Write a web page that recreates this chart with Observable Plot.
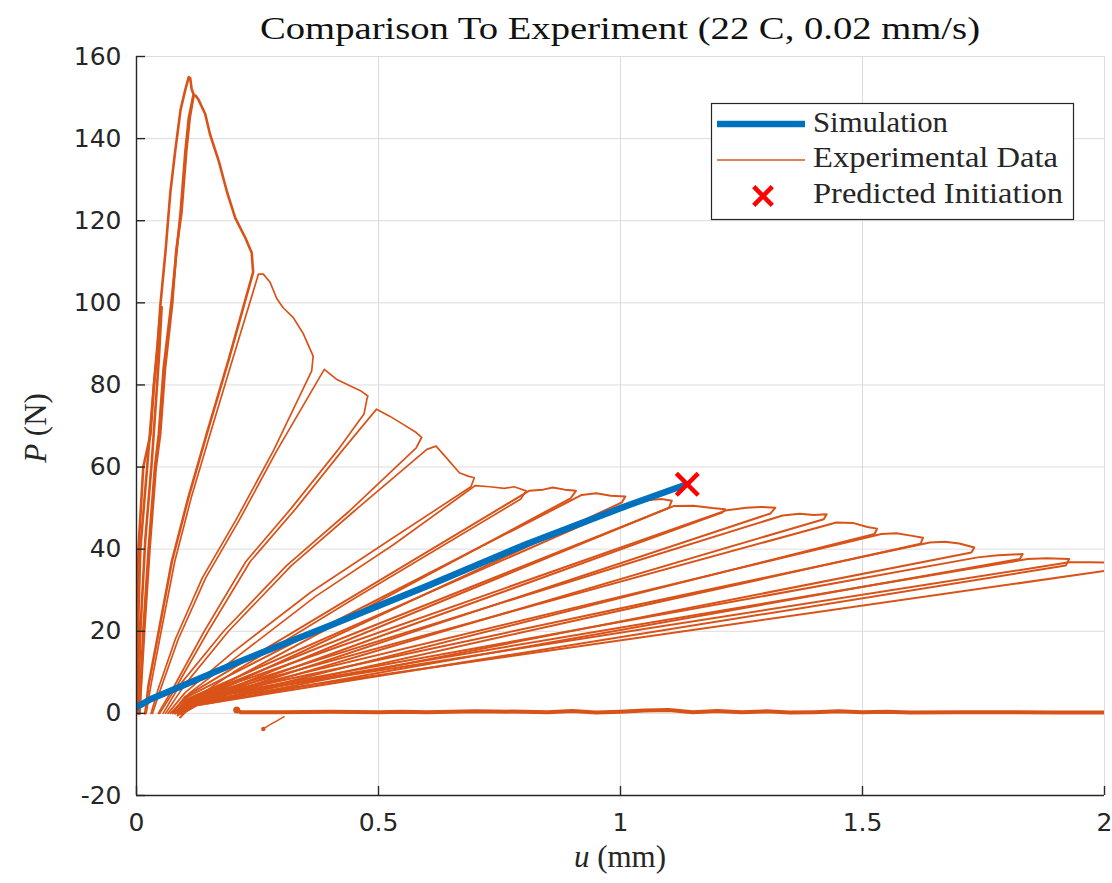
<!DOCTYPE html>
<html><head><meta charset="utf-8">
<script src="https://cdn.jsdelivr.net/npm/d3@7"></script>
<script src="https://cdn.jsdelivr.net/npm/@observablehq/plot@0.6"></script>
<style>html,body{margin:0;padding:0;background:#fff;overflow:hidden} svg{display:block}</style>
</head><body><div id="chart"></div>
<script>
// ---------- data ----------
const titleText = "Comparison To Experiment (22 C, 0.02 mm/s)";
const xTicks = [0, 0.5, 1, 1.5, 2];
const yTicks = [-20, 0, 20, 40, 60, 80, 100, 120, 140, 160];
const xTickLabels = ["0", "0.5", "1", "1.5", "2"];
const yTickLabels = ["-20", "0", "20", "40", "60", "80", "100", "120", "140", "160"];
const legendLabels = ["Simulation", "Experimental Data", "Predicted Initiation"];

// simulation (blue)
const simU = [0, 0.03, 0.09, 0.2, 0.4, 0.6, 0.805, 1.0, 1.13];
const simP = [1.5, 3.5, 6.5, 12, 21.4, 31, 41.2, 50, 55.5];

// predicted initiation (red x)
const initU = [1.138];
const initP = [55.8];

// experimental load/unload cycles (u in mm, P in N)
const cycleU = [
  [0, 0.003, 0.008, 0.022, 0.036, 0.048, 0.052, 0.046, 0.032, 0.018, 0.008, 0.003],
  [0, 0.002, 0.004, 0.014, 0.029, 0.036, 0.043, 0.049, 0.06, 0.07, 0.08, 0.091, 0.101, 0.108, 0.111, 0.114, 0.118, 0.108, 0.101, 0.091, 0.072, 0.056, 0.046, 0.038, 0.025, 0.014, 0.006],
  [0.006, 0.016, 0.027, 0.040, 0.049, 0.059, 0.074, 0.082, 0.093, 0.103, 0.110, 0.118, 0.122, 0.128, 0.142, 0.152, 0.17, 0.187, 0.204, 0.225, 0.238, 0.241, 0.19, 0.145, 0.107, 0.073, 0.045, 0.025, 0.018],
  [0.02, 0.03, 0.05, 0.079, 0.113, 0.152, 0.198, 0.252, 0.262, 0.276, 0.29, 0.303, 0.324, 0.345, 0.365, 0.362, 0.283, 0.205, 0.136, 0.08, 0.045, 0.03],
  [0.033, 0.05, 0.086, 0.143, 0.212, 0.29, 0.388, 0.413, 0.443, 0.464, 0.478, 0.476, 0.47, 0.415, 0.32, 0.226, 0.14, 0.075, 0.045],
  [0.048, 0.08, 0.148, 0.235, 0.33, 0.425, 0.496, 0.523, 0.551, 0.578, 0.589, 0.578, 0.44, 0.31, 0.18, 0.09, 0.055],
  [0.06, 0.1, 0.19, 0.32, 0.45, 0.60, 0.619, 0.64, 0.667, 0.685, 0.698, 0.691, 0.52, 0.36, 0.2, 0.1, 0.065],
  [0.07, 0.11, 0.21, 0.37, 0.53, 0.70, 0.73, 0.76, 0.78, 0.805, 0.794, 0.45, 0.2, 0.1, 0.075],
  [0.075, 0.1, 0.811, 0.84, 0.86, 0.885, 0.908, 0.897, 0.1, 0.08],
  [0.08, 0.105, 0.92, 0.95, 0.98, 1.01, 1.003, 0.105, 0.085],
  [0.085, 0.105, 1.03, 1.06, 1.085, 1.106, 1.1, 0.11, 0.085],
  [0.085, 0.11, 1.11, 1.15, 1.19, 1.216, 1.21, 0.11, 0.087],
  [0.087, 0.11, 1.22, 1.26, 1.29, 1.32, 1.31, 0.115, 0.09],
  [0.09, 0.115, 1.335, 1.37, 1.40, 1.426, 1.42, 0.115, 0.09],
  [0.09, 0.115, 1.446, 1.48, 1.51, 1.53, 1.525, 0.12, 0.09],
  [0.09, 0.12, 1.539, 1.57, 1.60, 1.625, 1.62, 0.12, 0.092],
  [0.092, 0.12, 1.639, 1.67, 1.70, 1.731, 1.725, 0.12, 0.093],
  [0.093, 0.12, 1.738, 1.78, 1.831, 1.825, 0.125, 0.094],
  [0.094, 0.125, 1.841, 1.88, 1.927, 1.92, 0.125, 0.095],
  [0.095, 0.125, 1.927, 1.97, 2.05],
  [0.095, 0.125, 2.0, 2.05]
];
const cycleP = [
  [0, 20, 40, 60, 80, 96, 99, 86, 62, 42, 20, 0],
  [0, 20, 40, 60, 68, 80, 88, 99, 112.6, 127, 137, 147, 152, 155, 154.7, 152, 150.8, 145, 137, 122, 100, 84, 68, 60, 40, 20, 0],
  [0, 20, 40, 60, 68, 84, 100, 112.6, 122, 137, 145, 150.5, 150.5, 149.5, 146, 141, 134.5, 127, 120.7, 115.8, 112.2, 107.5, 86, 68, 52.5, 37, 19.4, 7, 0],
  [0, 7, 19.4, 37, 52.5, 68, 86, 107, 107, 105, 101, 98.8, 96.4, 92.4, 87, 83.4, 64, 47, 33, 18, 6, 0],
  [0, 6, 18, 33, 47, 64, 83.8, 81.4, 79.7, 78.5, 77.3, 76.5, 72.9, 64, 50, 37, 20, 6, 0],
  [0, 6, 20, 37, 50, 64, 74.1, 72.4, 70.4, 68.4, 67.2, 64.7, 49.3, 36, 20, 7, 0],
  [0, 7, 20, 36, 49.3, 64.3, 65.1, 62.3, 58.6, 57.8, 57.4, 55.2, 42, 29.5, 15, 5, 0],
  [0, 5, 14, 28.5, 41, 55.5, 55.2, 54.8, 55.2, 54.2, 52.2, 28, 10, 2, 0],
  [0, 4, 54.2, 54.5, 55, 54.5, 54.2, 52.4, 2, 0],
  [0, 4, 53.2, 53.6, 53, 52.8, 51.4, 2, 0],
  [0, 3.5, 51.5, 52, 52.2, 51.8, 50.1, 2, -0.5],
  [0, 3.5, 50.5, 50.6, 50, 49.7, 48.9, 2, 0],
  [0, 3.5, 49.5, 50.1, 50.3, 50.1, 48.7, 2, 0],
  [0, 3.5, 48.2, 48.6, 48.3, 48.5, 47.3, 2, -1],
  [0, 3.5, 46.5, 46.4, 45.4, 45, 43.7, 2, 0],
  [0, 3.5, 43.7, 43.9, 43.3, 42.8, 41.3, 2, 0],
  [0, 3.5, 41.6, 41.8, 41.4, 40.4, 39.2, 2, 0],
  [0, 3.5, 38, 38.5, 38.8, 37.6, 2, 0],
  [0, 3.5, 37.6, 37.8, 37.6, 36, 2, 0],
  [0, 3.5, 36.8, 36.8, 36.7],
  [0, 3, 34.7, 35.6]
];

// post-failure trace near zero load
const tailU = [0.207, 0.215, 0.3, 0.4, 0.5, 0.55, 0.6, 0.7, 0.8, 0.85, 0.9, 0.95, 1.0, 1.05, 1.1, 1.15, 1.2, 1.25, 1.3, 1.35, 1.4, 1.45, 1.5, 1.55, 1.6, 1.7, 1.8, 1.9, 2.0];
const tailP = [0.8, 0.3, 0.3, 0.4, 0.3, 0.4, 0.3, 0.5, 0.4, 0.3, 0.6, 0.2, 0.4, 0.7, 0.8, 0.3, 0.6, 0.3, 0.5, 0.2, 0.3, 0.5, 0.3, 0.4, 0.2, 0.3, 0.3, 0.2, 0.2];
const spurU = [0.262, 0.275, 0.29, 0.305];
const spurP = [-3.8, -2.8, -1.8, -0.8];

// ---------- build ----------
const W = 1112, H = 883;
const mL = 136, mR = 8, mT = 56, mB = 88;
const orange = "#D95319", blue = "#0072BD", axisCol = "#262626";

const expRows = cycleU.flatMap((us, i) => us.map((u, j) => ({u, P: cycleP[i][j], cycle: i})));
const simRows = simU.map((u, i) => ({u, P: simP[i]}));
const initRows = initU.map((u, i) => ({u, P: initP[i]}));
const tailRows = tailU.map((u, i) => ({u, P: tailP[i]}));
const spurRows = spurU.map((u, i) => ({u, P: spurP[i]}));

const pxY = 180 / (H - mT - mB);   // data units per px (y)
const pxX = 2 / (W - mL - mR);     // data units per px (x)
const tickLen = 9;

const plot = Plot.plot({
  width: W, height: H,
  marginLeft: mL, marginRight: mR, marginTop: mT, marginBottom: mB,
  x: {domain: [0, 2]},
  y: {domain: [-20, 160]},
  style: {background: "white", color: axisCol},
  marks: [
    Plot.gridX(xTicks, {stroke: "#dcdcdc", strokeOpacity: 1, strokeWidth: 1}),
    Plot.gridY(yTicks, {stroke: "#dcdcdc", strokeOpacity: 1, strokeWidth: 1}),
    Plot.line(tailRows, {x: "u", y: "P", stroke: orange, strokeWidth: 4, clip: true}),
    Plot.dot(tailRows.slice(0, 1), {x: "u", y: "P", r: 3.5, fill: orange}),
    Plot.line(spurRows, {x: "u", y: "P", stroke: orange, strokeWidth: 1.5}),
    Plot.dot(spurRows.slice(0, 1), {x: "u", y: "P", r: 2.2, fill: orange}),
    Plot.line(expRows.filter(d => d.cycle < 3), {x: "u", y: "P", z: "cycle", stroke: orange, strokeWidth: 2.6, clip: true}),
    Plot.line(expRows.filter(d => d.cycle >= 3 && d.cycle < 8), {x: "u", y: "P", z: "cycle", stroke: orange, strokeWidth: 1.7, clip: true}),
    Plot.line(expRows.filter(d => d.cycle >= 8), {x: "u", y: "P", z: "cycle", stroke: orange, strokeWidth: 2, clip: true}),
    Plot.line(simRows, {x: "u", y: "P", stroke: blue, strokeWidth: 6.5, clip: true}),
    Plot.dot(initRows, {x: "u", y: "P", symbol: "times", r: 10, stroke: "#ff0000", strokeWidth: 4.5}),
    Plot.ruleX([0], {stroke: axisCol, strokeWidth: 1.4}),
    Plot.ruleY([-20], {stroke: axisCol, strokeWidth: 1.4}),
    Plot.ruleX(xTicks, {y1: -20, y2: -20 + tickLen * pxY, stroke: axisCol, strokeWidth: 1.4}),
    Plot.ruleY(yTicks, {x1: 0, x2: tickLen * pxX, stroke: axisCol, strokeWidth: 1.4}),
    Plot.axisX(xTicks, {tickSize: 0, tickPadding: 18, label: null, fontSize: 25,
      tickFormat: (d, i) => xTickLabels[i], fontFamily: "DejaVu Sans", fill: axisCol}),
    Plot.axisY(yTicks, {tickSize: 0, tickPadding: 15, label: null, fontSize: 25,
      tickFormat: (d, i) => yTickLabels[i], fontFamily: "DejaVu Sans", fill: axisCol})
  ]
});
document.getElementById("chart").appendChild(plot);

// ---------- title, axis labels, legend ----------
const svg = d3.select(plot);
const serif = "'Liberation Serif', 'DejaVu Serif', serif";
const cx = mL + (W - mL - mR) / 2;

svg.append("text")
  .attr("x", cx).attr("y", 39).attr("text-anchor", "middle")
  .attr("font-family", serif).attr("font-size", 32).attr("fill", "#111")
  .attr("textLength", 720).attr("lengthAdjust", "spacingAndGlyphs")
  .text(titleText);

const xl = svg.append("text")
  .attr("x", cx).attr("y", 867).attr("text-anchor", "middle")
  .attr("font-family", serif).attr("font-size", 31).attr("fill", axisCol);
xl.append("tspan").attr("font-style", "italic").text("u");
xl.append("tspan").text(" (mm)");

const yl = svg.append("text")
  .attr("transform", "translate(46,428) rotate(-90)").attr("text-anchor", "middle")
  .attr("font-family", serif).attr("font-size", 31).attr("fill", axisCol);
yl.append("tspan").attr("font-style", "italic").text("P");
yl.append("tspan").text(" (N)");

const lg = svg.append("g");
lg.append("rect").attr("x", 711.5).attr("y", 103.5).attr("width", 362).attr("height", 116)
  .attr("fill", "white").attr("stroke", axisCol).attr("stroke-width", 1.2);
lg.append("line").attr("x1", 717).attr("x2", 805).attr("y1", 124).attr("y2", 124)
  .attr("stroke", blue).attr("stroke-width", 6.5);
lg.append("line").attr("x1", 717).attr("x2", 805).attr("y1", 160).attr("y2", 160)
  .attr("stroke", orange).attr("stroke-width", 1.6);
lg.append("path").attr("transform", "translate(763,196)")
  .attr("d", d3.symbol(d3.symbolTimes, Math.PI * 8.5 * 8.5)())
  .attr("fill", "none").attr("stroke", "#ff0000").attr("stroke-width", 4.5);
const legY = [132, 167, 203];
const legW = [135, 245, 250];
legendLabels.forEach((t, i) => {
  lg.append("text").attr("x", 813).attr("y", legY[i]).attr("text-anchor", "start")
    .attr("font-family", serif).attr("font-size", 29).attr("fill", axisCol)
    .attr("textLength", legW[i]).attr("lengthAdjust", "spacingAndGlyphs")
    .text(t);
});
</script></body></html>
